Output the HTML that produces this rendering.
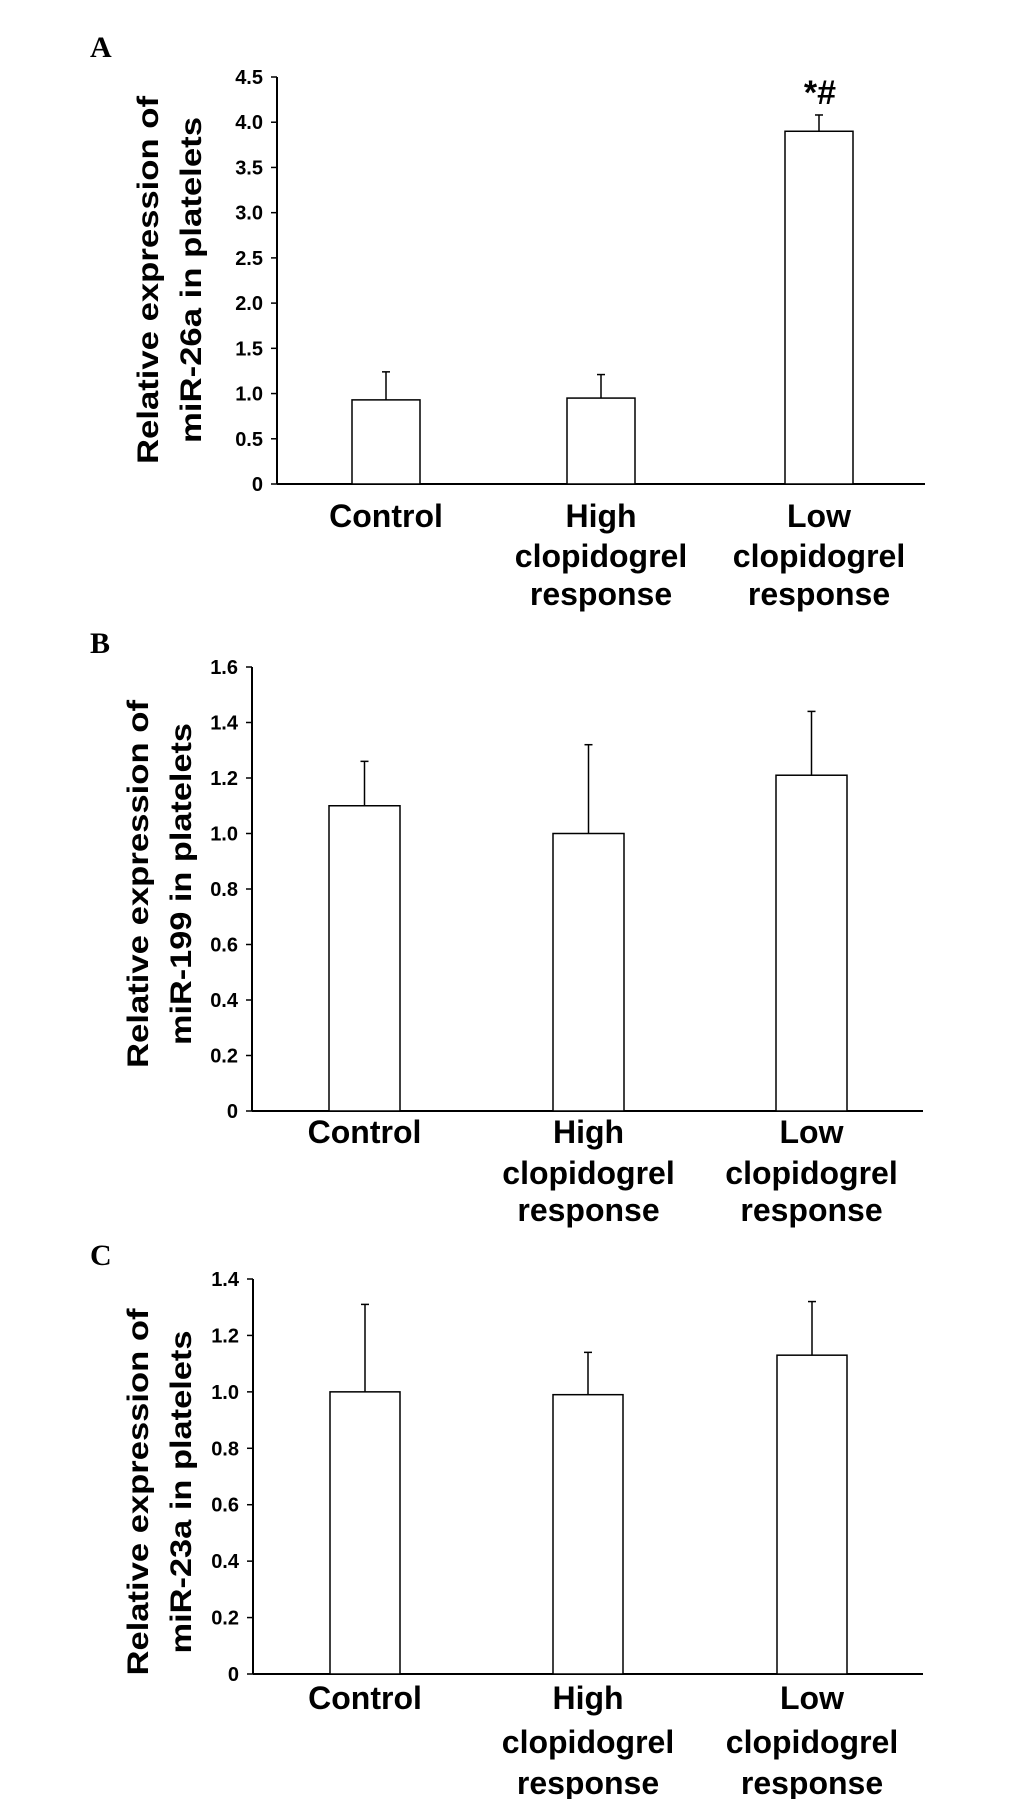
<!DOCTYPE html>
<html><head><meta charset="utf-8"><style>
html,body{margin:0;padding:0;background:#fff;}
svg{display:block;font-family:"Liberation Sans",Arial,sans-serif;}
</style></head><body>
<svg id="fig" width="1033" height="1799" viewBox="0 0 1033 1799"></svg>
<script>
const categories = [["Control"],["High","clopidogrel","response"],["Low","clopidogrel","response"]];
const valuesA = [0.93, 0.95, 3.9];
const errorsA = [1.24, 1.21, 4.08];
const ticksA = ["0","0.5","1.0","1.5","2.0","2.5","3.0","3.5","4.0","4.5"];
const valuesB = [1.1, 1.0, 1.21];
const errorsB = [1.26, 1.32, 1.44];
const ticksB = ["0","0.2","0.4","0.6","0.8","1.0","1.2","1.4","1.6"];
const valuesC = [1.0, 0.99, 1.13];
const errorsC = [1.31, 1.14, 1.32];
const ticksC = ["0","0.2","0.4","0.6","0.8","1.0","1.2","1.4"];

const NS = "http://www.w3.org/2000/svg";
const svg = document.getElementById('fig');
function mk(tag, attrs, parent, text){
  const e = document.createElementNS(NS, tag);
  for (const k in attrs) e.setAttribute(k, attrs[k]);
  if (text !== undefined) e.textContent = text;
  (parent||svg).appendChild(e);
  return e;
}
function panel(cfg){
  const g = mk('g', {});
  
  
  const ymax = parseFloat(cfg.ticks[cfg.ticks.length-1]);
  const y = v => cfg.y0 - (v/ymax)*(cfg.y0 - cfg.yTop);
  const lt = mk('text', {x:90, y:cfg.letterY, 'font-family':'"Liberation Serif",serif', 'font-weight':'bold', 'font-size':30}, g, cfg.letter);
  
  
  const ya = mk('line', {x1:cfg.ax, y1:cfg.yTop, x2:cfg.ax, y2:cfg.y0, stroke:'#000', 'stroke-width':2}, g);
  
  
  const xa = mk('line', {x1:cfg.ax, y1:cfg.y0, x2:cfg.axEnd, y2:cfg.y0, stroke:'#000', 'stroke-width':2}, g);
  
  
  cfg.ticks.forEach(t => {
    const v = parseFloat(t), yy = y(v);
    mk('line', {x1:cfg.ax-6, y1:yy, x2:cfg.ax, y2:yy, stroke:'#000', 'stroke-width':1.5}, g);
    const tl = mk('text', {x:cfg.ax-14, y:yy+7, 'text-anchor':'end', 'font-weight':'bold', 'font-size':20}, g, t);
    
    
  });
  cfg.values.forEach((v,i) => {
    const x1 = cfg.bars[i], w = cfg.bw, cx = x1 + w/2;
    const eb = mk('line', {x1:cx, y1:y(cfg.errors[i]), x2:cx, y2:y(v), stroke:'#000', 'stroke-width':1.5}, g);
    
    
    mk('line', {x1:cx-4, y1:y(cfg.errors[i]), x2:cx+4, y2:y(cfg.errors[i]), stroke:'#000', 'stroke-width':1.5}, g);
    const r = mk('rect', {x:x1, y:y(v), width:w, height:cfg.y0 - y(v), fill:'#fff', stroke:'#000', 'stroke-width':1.5}, g);
    
    
    categories[i].forEach((line,j) => {
      const c = mk('text', {x:cx, y:cfg.labY[j]+11, 'text-anchor':'middle', 'font-weight':'bold', 'font-size':32}, g, line);
      
      
    });
  });
  cfg.title.forEach((line,j) => {
    const tx = cfg.titleX[j];
    const t = mk('text', {x:0, y:0, transform:`translate(${tx+11},${cfg.titleY}) rotate(-90)`, 'text-anchor':'middle', 'font-weight':'bold', 'font-size':30, textLength:cfg.titleLen[j], lengthAdjust:'spacingAndGlyphs'}, g, line);
    
    
  });
  if (cfg.sig){
    const s = mk('text', {x:820, y:104, 'text-anchor':'middle', 'font-weight':'bold', 'font-size':34}, g, cfg.sig);
    
    
  }
}
panel({name:'panel-a', letter:'A', letterY:57, ax:277, axEnd:925, yTop:77, y0:484, ticks:ticksA, values:valuesA, errors:errorsA,
  bars:[352,567,785], bw:68, labY:[516,556,594], title:['Relative expression of','miR-26a in platelets'], titleX:[147,190], titleY:280, titleLen:[368,326], sig:'*#'});
panel({name:'panel-b', letter:'B', letterY:653, ax:252, axEnd:923, yTop:667, y0:1111, ticks:ticksB, values:valuesB, errors:errorsB,
  bars:[329,553,776], bw:71, labY:[1132,1173,1210], title:['Relative expression of','miR-199 in platelets'], titleX:[137,180], titleY:884, titleLen:[368,322]});
panel({name:'panel-c', letter:'C', letterY:1265, ax:253, axEnd:923, yTop:1279, y0:1674, ticks:ticksC, values:valuesC, errors:errorsC,
  bars:[330,553,777], bw:70, labY:[1698,1742,1783], title:['Relative expression of','miR-23a in platelets'], titleX:[137,180], titleY:1492, titleLen:[367,323]});
</script>
</body></html>
